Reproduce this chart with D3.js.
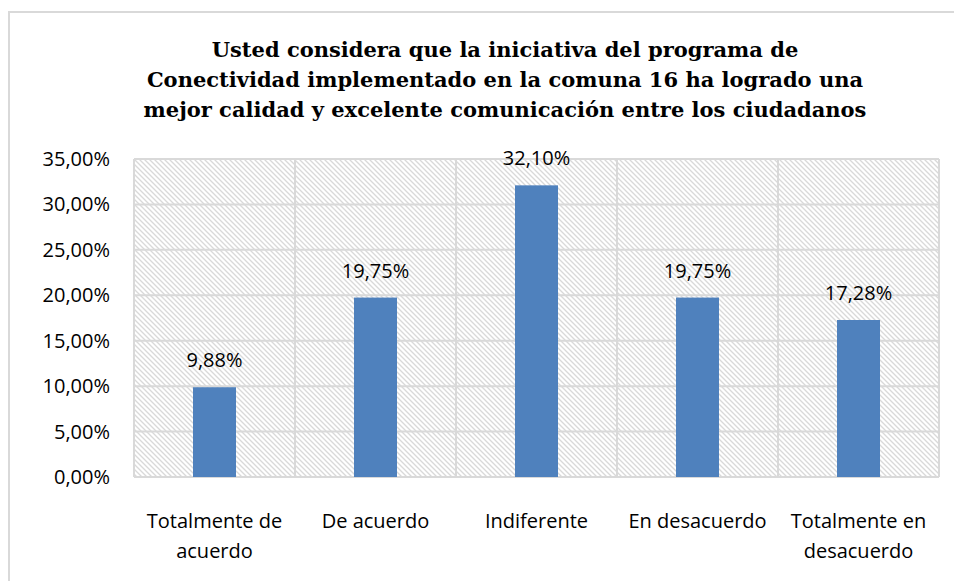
<!DOCTYPE html>
<html>
<head>
<meta charset="utf-8">
<script src="https://d3js.org/d3.v7.min.js"></script>
<style>
body { margin: 0; background: #fff; }
text { fill: #000; }
</style>
</head>
<body>
<svg width="954" height="581"></svg>
<script>
// Data
var titleLines = ["Usted considera que la iniciativa del programa de",
                  "Conectividad implementado en la comuna 16 ha logrado una",
                  "mejor calidad y excelente comunicación entre los ciudadanos"];
var categories = ["Totalmente de acuerdo", "De acuerdo", "Indiferente", "En desacuerdo", "Totalmente en desacuerdo"];
var catLines = [["Totalmente de", "acuerdo"], ["De acuerdo"], ["Indiferente"], ["En desacuerdo"], ["Totalmente en", "desacuerdo"]];
var values = [9.88, 19.75, 32.10, 19.75, 17.28];
var yTicks = [0, 5, 10, 15, 20, 25, 30, 35];

var svg = d3.select("svg");
var fmt = function(v) { return v.toFixed(2).replace(".", ",") + "%"; };
var labelFont = "'Open Sans', sans-serif";

// hatch pattern
var defs = svg.append("defs");
var pat = defs.append("pattern")
    .attr("id", "hatch")
    .attr("patternUnits", "userSpaceOnUse")
    .attr("width", 5).attr("height", 5);
pat.append("rect").attr("width", 5).attr("height", 5).attr("fill", "#fff");
pat.append("path")
    .attr("d", "M-1,-1 L6,6 M-1,4 L1,6 M4,-1 L6,1")
    .attr("stroke", "#d9d9d9")
    .attr("stroke-width", 1.3);

// outer chart border (only top/left visible)
svg.append("path")
    .attr("d", "M9,590 L9,12 L960,12")
    .attr("fill", "none")
    .attr("stroke", "#d9d9d9")
    .attr("stroke-width", 2);

// title
svg.append("g").selectAll("text")
    .data(titleLines)
    .enter().append("text")
    .attr("x", 505)
    .attr("y", function(d, i) { return 57 + i * 30; })
    .attr("text-anchor", "middle")
    .style("font-family", "'DejaVu Serif', serif")
    .style("font-weight", "bold")
    .style("font-size", "21px")
    .text(function(d) { return d; });

var pLeft = 134, pRight = 939, pTop = 159, pBottom = 477;

var x = d3.scaleBand().domain(categories).range([pLeft, pRight]);
var y = d3.scaleLinear().domain([0, 35]).range([pBottom, pTop]);

// plot area background
svg.append("rect")
    .attr("x", pLeft).attr("y", pTop)
    .attr("width", pRight - pLeft).attr("height", pBottom - pTop)
    .attr("fill", "url(#hatch)");

// horizontal gridlines
svg.append("g").selectAll("line")
    .data(yTicks)
    .enter().append("line")
    .attr("x1", pLeft).attr("x2", pRight)
    .attr("y1", function(d) { return y(d); })
    .attr("y2", function(d) { return y(d); })
    .attr("stroke", "#d9d9d9")
    .attr("stroke-width", 2);

// vertical gridlines between categories
var vx = categories.map(function(c) { return x(c); }).concat([pRight]);
svg.append("g").selectAll("line")
    .data(vx)
    .enter().append("line")
    .attr("x1", function(d) { return d; }).attr("x2", function(d) { return d; })
    .attr("y1", pTop).attr("y2", pBottom)
    .attr("stroke", "#d9d9d9")
    .attr("stroke-width", 2);

// bars
var bw = 43;
svg.append("g").selectAll("rect")
    .data(values)
    .enter().append("rect")
    .attr("x", function(d, i) { return x(categories[i]) + x.bandwidth() / 2 - bw / 2; })
    .attr("y", function(d) { return y(d); })
    .attr("width", bw)
    .attr("height", function(d) { return y(0) - y(d); })
    .attr("fill", "#4f81bd");

// value labels
svg.append("g").selectAll("text")
    .data(values)
    .enter().append("text")
    .attr("x", function(d, i) { return x(categories[i]) + x.bandwidth() / 2; })
    .attr("y", function(d) { return y(d) - 20; })
    .attr("text-anchor", "middle")
    .style("font-family", labelFont)
    .style("font-size", "20px")
    .text(fmt);

// y axis labels
svg.append("g").selectAll("text")
    .data(yTicks)
    .enter().append("text")
    .attr("x", 110)
    .attr("y", function(d) { return y(d); })
    .attr("dy", "0.35em")
    .attr("text-anchor", "end")
    .style("font-family", labelFont)
    .style("font-size", "20px")
    .text(fmt);

// category labels
var cg = svg.append("g").selectAll("text")
    .data(catLines)
    .enter().append("text")
    .attr("text-anchor", "middle")
    .style("font-family", labelFont)
    .style("font-size", "20px");
cg.selectAll("tspan")
    .data(function(d, i) { return d.map(function(t) { return {t: t, i: i}; }); })
    .enter().append("tspan")
    .attr("x", function(d) { return x(categories[d.i]) + x.bandwidth() / 2; })
    .attr("y", function(d, j) { return 528 + j * 30; })
    .text(function(d) { return d.t; });
</script>
</body>
</html>
